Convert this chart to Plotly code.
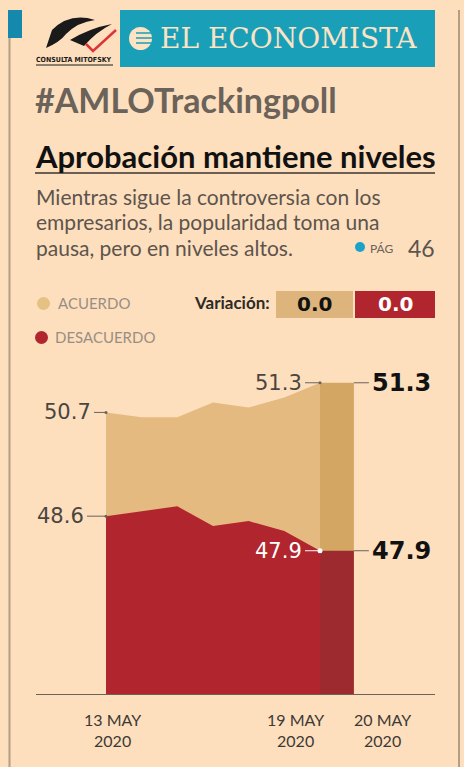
import plotly.graph_objects as go

# ---------------- data ----------------
dates = ["13 May", "14 May", "15 May", "16 May", "17 May", "18 May", "19 May"]
acuerdo = [50.7, 50.6, 50.6, 50.9, 50.8, 51.0, 51.3]
desacuerdo = [48.6, 48.7, 48.8, 48.4, 48.5, 48.3, 47.9]
last_date = "20 May"
acuerdo_last = 51.3
desacuerdo_last = 47.9
variacion = [0.0, 0.0]
tick_labels = ["13 MAY<br>2020", "19 MAY<br>2020", "20 MAY<br>2020"]

W, H = 464, 767
BG = "#fddfbd"
TAN = "#e4ba80"
TAN_D = "#d4a663"
RED = "#b1262e"
RED_D = "#9c2a2f"
GRAY = "#4b4540"
BLUE = "#1a9fb8"
NUM = "DejaVu Sans"

def px(x):
    return x / W

def py(y):
    return 1 - y / H

xi = list(range(len(dates)))
band_w = 0.95
xb = [xi[-1], xi[-1] + band_w]

fig = go.Figure()
fig.add_trace(go.Scatter(x=xi, y=acuerdo, mode="lines", fill="tozeroy",
                         line=dict(width=0, color=TAN), fillcolor=TAN, hoverinfo="skip"))
fig.add_trace(go.Scatter(x=xi, y=desacuerdo, mode="lines", fill="tozeroy",
                         line=dict(width=0, color=RED), fillcolor=RED, hoverinfo="skip"))
fig.add_trace(go.Scatter(x=xb, y=[acuerdo_last] * 2, mode="lines", fill="tozeroy",
                         line=dict(width=0, color=TAN_D), fillcolor=TAN_D, hoverinfo="skip"))
fig.add_trace(go.Scatter(x=xb, y=[desacuerdo_last] * 2, mode="lines", fill="tozeroy",
                         line=dict(width=0, color=RED_D), fillcolor=RED_D, hoverinfo="skip"))

# x range: index 0 at pixel 106, index 6 at pixel 320
ppd = (320 - 106) / 6.0
x0r = 0 - (106 - 36) / ppd
x1r = 6 + (435 - 320) / ppd
ppu = 49.4
ybase = 45.0
ytop = ybase + (694 - 360) / ppu

fig.update_layout(
    width=W, height=H, margin=dict(l=0, r=0, t=0, b=0),
    paper_bgcolor=BG, plot_bgcolor=BG, showlegend=False,
    xaxis=dict(domain=[px(36), px(435)], range=[x0r, x1r], showgrid=False,
               zeroline=False, showticklabels=False, ticks="", showline=True,
               linecolor="#6b625a", linewidth=1, fixedrange=True),
    yaxis=dict(domain=[py(694), py(360)], range=[ybase, ytop], showgrid=False,
               zeroline=False, showticklabels=False, showline=False, fixedrange=True),
)

ann = []
shapes = []

def txt(x, y, text, size, color, family="Lato", xanchor="center", bold=False):
    ann.append(dict(x=px(x), y=py(y), xref="paper", yref="paper", text=text,
                    xanchor=xanchor, yanchor="middle", showarrow=False,
                    font=dict(family=family, size=size, color=color,
                              weight="bold" if bold else "normal")))

# value labels with leader lines
def lead(x, y, text, ax, color, size, bold=False, lcolor=None):
    ann.append(dict(x=x, y=y, xref="x", yref="y", text=text, showarrow=True,
                    ax=ax, ay=0, arrowhead=0, arrowwidth=1, arrowcolor=lcolor or color,
                    standoff=0, startstandoff=2, yanchor="middle",
                    font=dict(family=NUM, size=size, color=color,
                              weight="bold" if bold else "normal")))

lead(xi[0], acuerdo[0], f"{acuerdo[0]:.1f}", -39, GRAY, 21, lcolor="#6b625a")
lead(xi[0], desacuerdo[0], f"{desacuerdo[0]:.1f}", -46, GRAY, 21, lcolor="#6b625a")
lead(xi[-1], acuerdo[-1], f"{acuerdo[-1]:.1f}", -42, GRAY, 21, lcolor="#6b625a")
lead(xi[-1], desacuerdo[-1], f"{desacuerdo[-1]:.1f}", -42, "white", 21)
lead(xb[1], acuerdo_last, f"<b>{acuerdo_last:.1f}</b>", 48, "#111111", 24, True, lcolor="#6b625a")
lead(xb[1], desacuerdo_last, f"<b>{desacuerdo_last:.1f}</b>", 48, "#111111", 24, True, lcolor="#6b625a")

# small dots at leader ends
fig.add_trace(go.Scatter(x=[xi[0], xi[0], xi[-1]], y=[acuerdo[0], desacuerdo[0], acuerdo[-1]],
                         mode="markers", marker=dict(size=3, color="#6b625a"), hoverinfo="skip"))
fig.add_trace(go.Scatter(x=[xi[-1]], y=[desacuerdo[-1]], mode="markers",
                         marker=dict(size=5, color="white"), hoverinfo="skip"))

# x tick labels
tick_x = [xi[0], xi[-1], xb[1]]
tick_shift = [6, -25, 29]
for tx, tl, sh in zip(tick_x, tick_labels, tick_shift):
    ann.append(dict(x=tx, y=py(730), xref="x", yref="paper", text=tl, showarrow=False,
                    xshift=sh, align="center", yanchor="middle",
                    font=dict(family="Lato", size=16, color="#3e3935")))

# ---------- header ----------
shapes.append(dict(type="rect", xref="paper", yref="paper", x0=px(8), x1=px(22),
                   y0=py(38), y1=py(10), fillcolor="#1589ab", line=dict(width=0)))
shapes.append(dict(type="line", xref="paper", yref="paper", x0=px(9.5), x1=px(9.5),
                   y0=py(38), y1=0, line=dict(color="#b49e86", width=2)))
shapes.append(dict(type="line", xref="paper", yref="paper", x0=px(459), x1=px(459),
                   y0=py(10), y1=0, line=dict(color="#b49e86", width=2)))
shapes.append(dict(type="rect", xref="paper", yref="paper", x0=px(120), x1=px(435),
                   y0=py(67), y1=py(10), fillcolor=BLUE, line=dict(width=0)))
# e logo
shapes.append(dict(type="circle", xref="paper", yref="paper", x0=px(129), x1=px(152),
                   y0=py(50), y1=py(27), fillcolor="#fbe3c4", line=dict(width=0)))
for yy in (33, 38, 43):
    shapes.append(dict(type="line", xref="paper", yref="paper", x0=px(136), x1=px(153),
                       y0=py(yy), y1=py(yy), line=dict(color=BLUE, width=1.5)))
txt(158, 39, "EL ECONOMISTA", 28, "#fbe3c4", family="DejaVu Serif", xanchor="left")
# mitofsky logo approximation
shapes.append(dict(type="path", xref="paper", yref="paper",
                   path=f"M {px(52)},{py(30)} Q {px(70)},{py(12)} {px(95)},{py(20)} "
                        f"Q {px(78)},{py(22)} {px(66)},{py(34)} Q {px(60)},{py(42)} {px(46)},{py(48)} Z",
                   fillcolor="#1a1a1a", line=dict(width=0)))
shapes.append(dict(type="path", xref="paper", yref="paper",
                   path=f"M {px(70)},{py(40)} Q {px(90)},{py(28)} {px(112)},{py(24)} "
                        f"Q {px(96)},{py(32)} {px(84)},{py(46)} Z",
                   fillcolor="#1a1a1a", line=dict(width=0)))
shapes.append(dict(type="path", xref="paper", yref="paper",
                   path=f"M {px(86)},{py(44)} L {px(93)},{py(51)} L {px(116)},{py(30)}",
                   line=dict(color="#e0323a", width=2.5)))
txt(74, 60, "<b>CONSULTA MITOFSKY</b>", 7, "#1a1a1a", family="DejaVu Sans Condensed")
shapes.append(dict(type="line", xref="paper", yref="paper", x0=px(36), x1=px(113),
                   y0=py(65), y1=py(65), line=dict(color="#1a1a1a", width=1)))

# titles
txt(33, 99, "<b>#AMLOTrackingpoll</b>", 34, "#6b625a", xanchor="left")
txt(33, 156, "<b>Aprobación mantiene niveles</b>", 31, "#111111", xanchor="left")
shapes.append(dict(type="line", xref="paper", yref="paper", x0=px(35), x1=px(435),
                   y0=py(173), y1=py(173), line=dict(color="#3a3530", width=1.5)))
sub = ["Mientras sigue la controversia con los",
       "empresarios, la popularidad toma una",
       "pausa, pero en niveles altos."]
for i, s in enumerate(sub):
    txt(34, 197 + 25 * i, s, 21, "#5c544d", xanchor="left")
shapes.append(dict(type="circle", xref="paper", yref="paper", x0=px(355), x1=px(365),
                   y0=py(252), y1=py(242), fillcolor="#1aa3c8", line=dict(width=0)))
txt(368, 248, "PÁG", 12, "#6b625a", xanchor="left")
txt(437, 248, "46", 23, "#5c544d", xanchor="right")

# legend
shapes.append(dict(type="circle", xref="paper", yref="paper", x0=px(37), x1=px(50),
                   y0=py(310), y1=py(297), fillcolor="#e6c184", line=dict(width=0)))
shapes.append(dict(type="circle", xref="paper", yref="paper", x0=px(35), x1=px(48),
                   y0=py(344), y1=py(331), fillcolor=RED, line=dict(width=0)))
txt(56, 303, "ACUERDO", 15, "#9a8e84", xanchor="left")
txt(53, 337, "DESACUERDO", 15, "#9a8e84", xanchor="left")
txt(272, 303, "<b>Variación:</b>", 17, "#2e2a26", xanchor="right")
shapes.append(dict(type="rect", xref="paper", yref="paper", x0=px(276), x1=px(353),
                   y0=py(318), y1=py(291), fillcolor="#dcb47c", line=dict(width=0)))
shapes.append(dict(type="rect", xref="paper", yref="paper", x0=px(355), x1=px(435),
                   y0=py(318), y1=py(291), fillcolor=RED, line=dict(width=0)))
txt(314, 304, f"<b>{variacion[0]:.1f}</b>", 20, "#111111", family=NUM)
txt(395, 304, f"<b>{variacion[1]:.1f}</b>", 20, "white", family=NUM)

fig.update_layout(annotations=ann, shapes=shapes)
fig.write_html("out.html", config={"displayModeBar": False},
               post_script="document.body.style.margin='0';")
